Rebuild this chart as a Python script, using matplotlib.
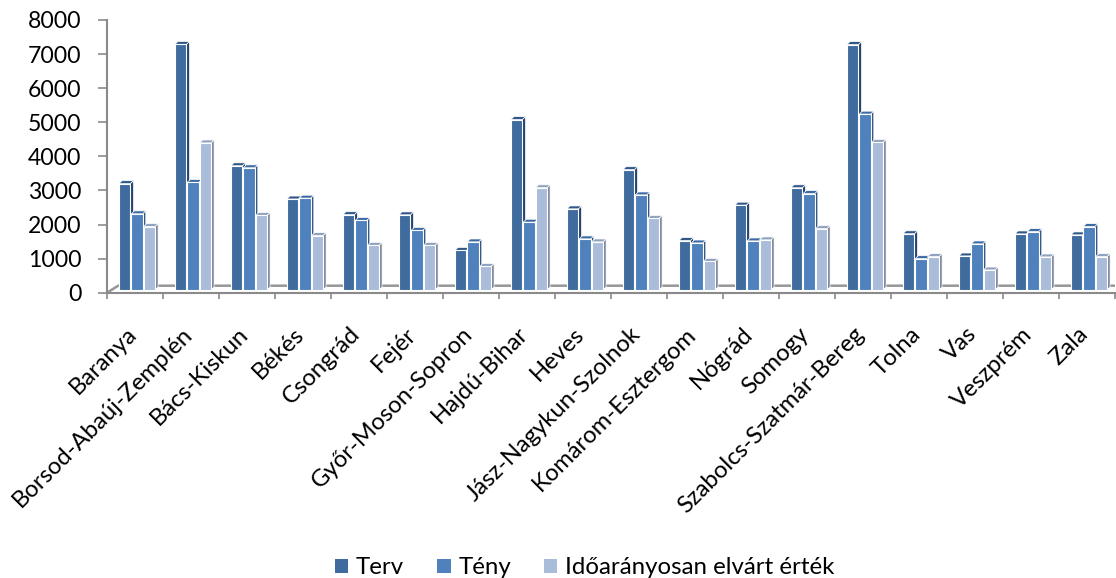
import matplotlib
matplotlib.use("Agg")
import matplotlib.pyplot as plt
from matplotlib.patches import Patch

plt.rcParams["font.family"] = ["Lato", "DejaVu Sans"]

# Values
counties = ["Baranya", "Borsod-Abaúj-Zemplén", "Bács-Kiskun", "Békés", "Csongrád", "Fejér",
            "Győr-Moson-Sopron", "Hajdú-Bihar", "Heves", "Jász-Nagykun-Szolnok",
            "Komárom-Esztergom", "Nógrád", "Somogy", "Szabolcs-Szatmár-Bereg",
            "Tolna", "Vas", "Veszprém", "Zala"]
terv = [3120, 7205, 3645, 2670, 2210, 2205, 1160, 5000, 2380, 3530, 1450, 2490, 3000, 7200, 1650, 999, 1646, 1617]
teny = [2235, 3155, 3585, 2695, 2040, 1750, 1411, 1990, 1500, 2790, 1380, 1440, 2830, 5160, 920, 1352, 1714, 1861]
elvart = [1862, 4315, 2185, 1597, 1310, 1310, 690, 3000, 1411, 2100, 840, 1470, 1800, 4330, 980, 588, 970, 979]
y_ticks = [0, 1000, 2000, 3000, 4000, 5000, 6000, 7000, 8000]

series = [
    ("Terv", terv, "#3f6b9f", "#24456f", "#2f5787"),
    ("Tény", teny, "#4f81bd", "#2b4f7c", "#3c6aa3"),
    ("Időarányosan elvárt érték", elvart, "#a9bcd9", "#7d8697", "#8fa2bf"),
]

# fake 3D look, in data units
floor = 80
depth_x = 0.055
depth_y = 85
bar_w = 0.205
pitch = 0.22

fig = plt.figure(figsize=(11.16, 5.78), dpi=100)
ax = fig.add_axes([107 / 1116, 1 - 292.7 / 578, 1008 / 1116, 272.7 / 578])

# floor back edge
ax.plot([0, 0.2, len(counties)], [0, 205, 205], color="#969696", lw=1.8, zorder=1, clip_on=False,
        solid_capstyle="butt")

for s, (name, values, face, side, top) in enumerate(series):
    for i, v in enumerate(values):
        x = i + 0.535 + (s - 1) * pitch
        left = x - bar_w / 2
        right = x + bar_w / 2
        z = 2 + s * 0.1
        ax.fill([right, right + depth_x, right + depth_x, right],
                [floor, floor + depth_y, floor + v + depth_y, floor + v],
                color=side, ec="white", lw=0.5, zorder=z, clip_on=False)
        ax.fill([left, left + depth_x, right + depth_x, right],
                [floor + v, floor + v + depth_y, floor + v + depth_y, floor + v],
                color=top, ec="white", lw=0.5, zorder=z, clip_on=False)
        ax.bar(x, v, bottom=floor, width=bar_w, color=face, edgecolor="white", linewidth=0.8,
               zorder=z, clip_on=False)

ax.set_xlim(0, len(counties))
ax.set_ylim(0, 8000)
ax.set_yticks(y_ticks)
ax.set_xticks(range(len(counties) + 1))
ax.set_xticklabels([])
for i, name in enumerate(counties):
    ax.annotate(name, xy=(i + 0.5, 0), xycoords=("data", "axes fraction"), xytext=(-1.4, -27.4),
                textcoords="offset points", rotation=45, ha="right", va="center",
                rotation_mode="anchor", fontsize=17.2, color="black", annotation_clip=False)

ax.tick_params(axis="x", color="#8a8a8a", width=1.2, length=4.3)
ax.tick_params(axis="y", color="#8a8a8a", width=1.2, length=6.5, labelsize=16.6, pad=12)
ax.spines["top"].set_visible(False)
ax.spines["right"].set_visible(False)
ax.spines["left"].set_color("#8a8a8a")
ax.spines["bottom"].set_color("#8a8a8a")
ax.spines["left"].set_linewidth(1.5)
ax.spines["bottom"].set_linewidth(1.5)

handles = [Patch(facecolor=s[2], edgecolor="none", label=s[0]) for s in series]
fig.legend(handles=handles, loc="lower center", bbox_to_anchor=(0.524, -0.038), ncol=3, frameon=False,
           fontsize=17.3, handlelength=0.55, handleheight=0.55, handletextpad=0.32, columnspacing=1.38)

fig.savefig("out.png", dpi=100)
